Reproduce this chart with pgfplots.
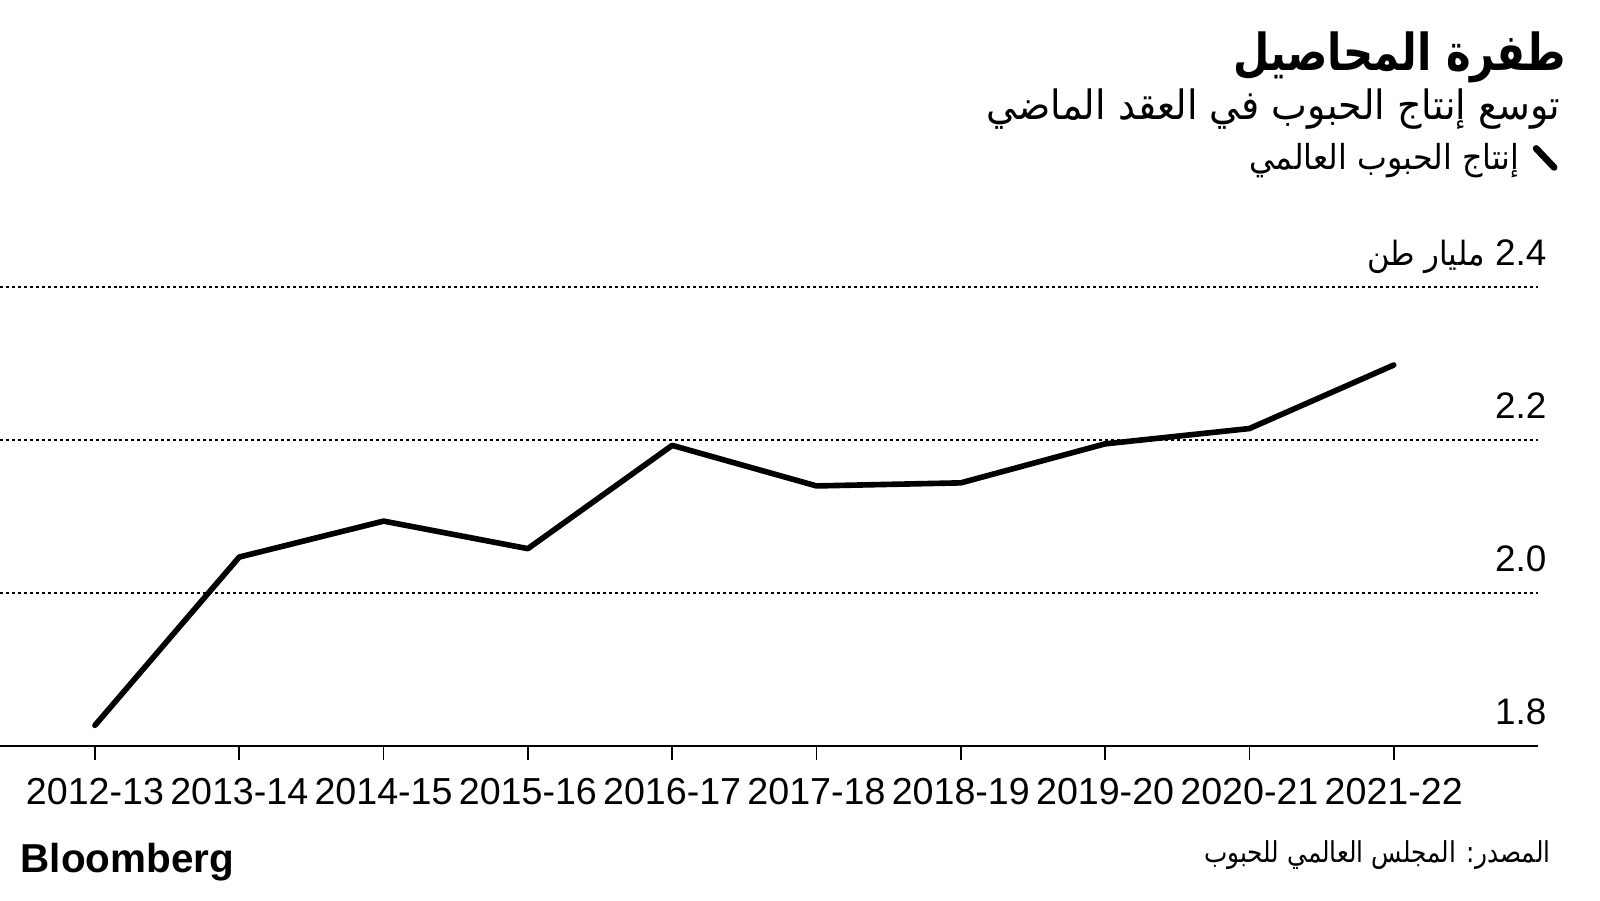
\documentclass[border=0pt]{standalone}
\usepackage{pgfplots}
\pgfplotsset{compat=1.18}
\usepackage{fontspec}
\setmainfont{Liberation Sans}
\newfontfamily\arabicfont[Script=Arabic]{DejaVu Sans}
\TeXXeTstate=1
\begin{document}
\begin{tikzpicture}
\useasboundingbox (0,0) rectangle (16cm,9cm);
\begin{axis}[
  at={(0cm,1.54cm)}, anchor=south west,
  scale only axis, width=15.38cm, height=4.59cm,
  xmin=-0.658, xmax=10.0, ymin=1.8, ymax=2.4,
  clip=false,
  axis x line*=bottom, axis y line*=right,
  y axis line style={draw=none},
  x axis line style={line width=0.6pt, -},
  ytick={1.8,2.0,2.2,2.4},
  yticklabels={1.8,2.0,2.2,{{\arabicfont\fontsize{9.5}{11}\selectfont\scalebox{0.92}[1]{\beginR مليار طن\endR}}\ 2.4}},
  ytick style={draw=none},
  xtick={0,...,9},
  xticklabels={2012-13,2013-14,2014-15,2015-16,2016-17,2017-18,2018-19,2019-20,2020-21,2021-22},
  tick align=outside,
  major tick length=0.14cm,
  xtick style={line width=0.5pt, black},
  ymajorgrids, grid style={line width=0.4pt, black, dash pattern=on 0.85pt off 0.85pt},
  /pgf/number format/assume math mode=true,
  xticklabel style={font=\fontsize{10.7}{13}\selectfont, anchor=north, inner sep=0pt, yshift=-0.18cm},
  yticklabel style={font=\fontsize{10.5}{12}\selectfont, anchor=base east, inner sep=0pt, xshift=-0.05cm, yshift=0.215cm},
]
\addplot[black, line width=1.6pt, line cap=round, line join=round] coordinates {
(0,1.827) (1,2.047) (2,2.094) (3,2.058) (4,2.193) (5,2.140) (6,2.144) (7,2.195) (8,2.215) (9,2.298)
};
\end{axis}
\begin{scope}[x=0.01cm,y=0.01cm]
\node[anchor=east, inner sep=0pt] at (1568,843) {\arabicfont\bfseries\fontsize{14.5}{17}\selectfont\scalebox{0.82}[1]{\beginR طفرة المحاصيل\endR}};
\node[anchor=east, inner sep=0pt] at (1562,791) {\arabicfont\fontsize{11.5}{14}\selectfont\scalebox{0.94}[1]{\beginR توسع إنتاج الحبوب في العقد الماضي\endR}};
\draw[line width=1.9pt, line cap=round] (1537,752) -- (1555,733);
\node[anchor=east, inner sep=0pt] at (1521,740) {\arabicfont\fontsize{9.8}{12}\selectfont\scalebox{0.92}[1]{\beginR إنتاج الحبوب العالمي\endR}};
\node[anchor=east, inner sep=0pt] at (1552,45) {\arabicfont\fontsize{8.2}{10}\selectfont\scalebox{0.86}[1]{\beginR المصدر: المجلس العالمي للحبوب\endR}};
\node[anchor=west, inner sep=0pt] at (20,38) {\bfseries\fontsize{11.5}{13}\selectfont Bloomberg};
\end{scope}
\end{tikzpicture}
\end{document}
